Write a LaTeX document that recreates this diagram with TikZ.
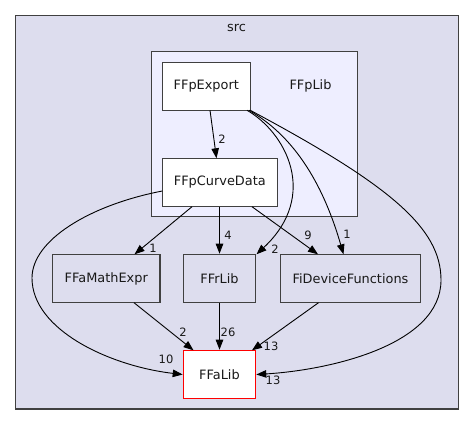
\documentclass[tikz,border=0pt]{standalone}
\usepackage{fontspec}
\setmainfont{DejaVu Sans}
\usetikzlibrary{arrows.meta}
\definecolor{bgouter}{HTML}{DDDDEE}
\definecolor{bginner}{HTML}{EEEEFF}
\definecolor{boxline}{HTML}{404040}
\tikzset{
  dirbox/.style={draw=boxline, line width=1.2bp, inner sep=0pt, font=\fontsize{12.9bp}{15bp}\selectfont, text=black!90},
  edge/.style={draw=black, line width=0.9bp, -{Triangle[length=10bp,width=7.5bp]}},
  elabel/.style={font=\fontsize{11.5bp}{13bp}\selectfont, inner sep=0pt, text=black!90},
  cluslabel/.style={font=\fontsize{12.9bp}{15bp}\selectfont, inner sep=0pt, text=black!90}
}
\begin{document}
\begin{tikzpicture}[x=1bp,y=-1bp]
\useasboundingbox (0,0) rectangle (475,425);
% clusters
\path[fill=bgouter, draw=boxline, line width=1.2bp] (15.7,15.7) rectangle (458.7,409);
\node[cluslabel] (srclab) at (236.5,28) {src};
\path[fill=bginner, draw=boxline, line width=1.2bp] (151.7,51.7) rectangle (357.3,216.7);
\node[cluslabel] (libl) at (310.5,86) {FFpLib};
% nodes
\node[dirbox, fill=white, minimum width=88bp, minimum height=48bp] (exp) at (206.3,86.3) {FFpExport};
\node[dirbox, fill=white, minimum width=115bp, minimum height=48.4bp] (cd) at (219.8,182.5) {FFpCurveData};
\node[dirbox, fill=bgouter, minimum width=107.3bp, minimum height=48.4bp] (math) at (106.3,278.5) {FFaMathExpr};
\node[dirbox, fill=bgouter, minimum width=72.4bp, minimum height=48.4bp] (ffr) at (219.5,278.5) {FFrLib};
\node[dirbox, fill=bgouter, minimum width=140.4bp, minimum height=48.4bp] (dev) at (350.5,278.5) {FiDeviceFunctions};
\node[dirbox, fill=white, draw=red, minimum width=72.4bp, minimum height=48.4bp] (ffa) at (219.5,374.5) {FFaLib};
% connector end points
\coordinate (a1) at (210,110.3);
\coordinate (b1) at (216.5,158.3);
\coordinate (a2) at (192,206.7);
\coordinate (b2) at (134.5,254.3);
\coordinate (a4) at (252,206.7);
\coordinate (b4) at (318,254.3);
\coordinate (es1) at (247,110.3);
\coordinate (es2) at (249,110.3);
\coordinate (es3) at (250.3,110.3);
\coordinate (t1) at (256.5,254.3);
\coordinate (t2) at (343.5,254.3);
\coordinate (cs) at (162.3,191);
\coordinate (a9) at (134,302.7);
\coordinate (b9) at (193.5,350.3);
\coordinate (a11) at (318.5,302.7);
\coordinate (b11) at (252,350.3);
% edges
\draw[edge] (a1) -- (b1);
\node[elabel] (l1) at (222,139) {2};
\draw[edge] (a2) -- (b2);
\node[elabel] (l2) at (153,248) {1};
\draw[edge] (cd.south -| ffr.north) -- (ffr.north);
\node[elabel] (l3) at (228,235) {4};
\draw[edge] (a4) -- (b4);
\node[elabel] (l4) at (308,235) {9};
\draw[edge] (es1) .. controls (285,132) and (320,195) .. (t1);
\node[elabel] (l5) at (275,249) {2};
\draw[edge] (es2) .. controls (292,135) and (322,180) .. (t2);
\node[elabel] (l6) at (347,234) {1};
\draw[edge] (es3) .. controls (390,185) and (441,228) .. (441,280) .. controls (441,345) and (330,370) .. (ffa.east);
\node[elabel] (l7) at (273,380) {13};
\draw[edge] (cs) .. controls (90,205) and (32,240) .. (32,278) .. controls (32,330) and (110,366) .. (ffa.west);
\node[elabel] (l8) at (166,359) {10};
\draw[edge] (a9) -- (b9);
\node[elabel] (l9) at (183,332) {2};
\draw[edge] (ffr.south) -- (ffa.north);
\node[elabel] (l10) at (228,332) {26};
\draw[edge] (a11) -- (b11);
\node[elabel] (l11) at (271,346) {13};
\end{tikzpicture}
\end{document}
